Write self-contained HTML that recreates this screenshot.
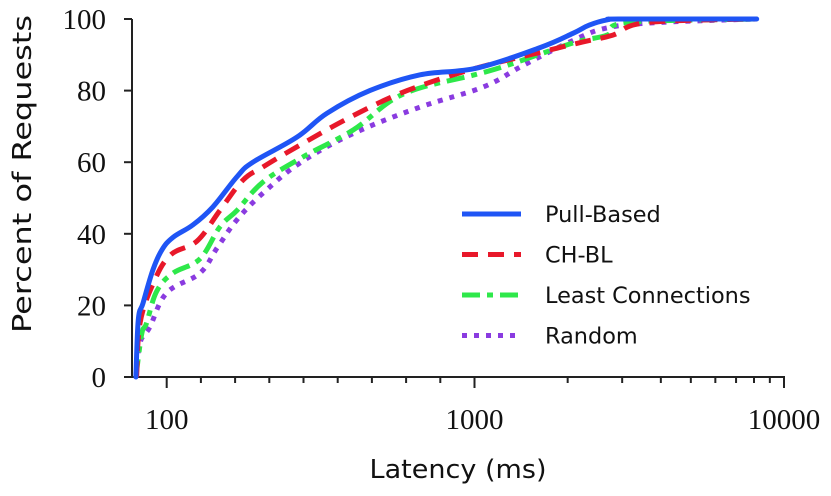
<!DOCTYPE html>
<html><head><meta charset="utf-8"><style>
body{margin:0;background:#fff;}
svg{display:block;}
.tk{font-family:"Liberation Serif",serif;font-size:29px;fill:#111;}
.tt{font-family:"DejaVu Sans","Liberation Sans",sans-serif;font-size:26px;fill:#111;}
.lg{font-family:"DejaVu Sans","Liberation Sans",sans-serif;font-size:22.4px;fill:#111;}
</style></head><body>
<svg id="chart" width="831" height="496" viewBox="0 0 831 496" xmlns="http://www.w3.org/2000/svg">
<g id="axes"></g>
<g id="series"></g>
<text class="tt" x="458" y="478" text-anchor="middle" textLength="177" lengthAdjust="spacingAndGlyphs">Latency (ms)</text>
<text class="tt" transform="translate(31,174) rotate(-90)" text-anchor="middle" textLength="318" lengthAdjust="spacingAndGlyphs">Percent of Requests</text>
<g id="legend"></g>
</svg>
<script>
const seriesNames = ["Pull-Based","CH-BL","Least Connections","Random"];
const pullX = [10,17,31,60,86,118,177,235,306,352,481,569,694,841,1019,1628,2081,2350,2700,3000,8160];
const pullY = [0,16,20.7,30,35.5,39,42.5,47.5,56,60,67,73.7,80,84.4,86.3,92,96,98.3,99.8,100,100];
const chblX = [12,22,60,110,189,256,323,382,490,645,803,987,1510,2240,2800,3600,8160];
const chblY = [0,15,26,34,38,46.6,55,58.7,64.8,73,80,85.8,90,93.6,95.5,99,100];
const lcX = [10,27,41,71,118,197,256,306,382,499,645,791,1000,1273,2080,2680,3110,8160];
const lcY = [0,12,15,24,29,33,42,46.6,54.5,61.5,69,79,84.4,87,93.3,95.5,99,100];
const rndX = [10,22,51,100,197,247,306,382,490,645,841,1067,1434,2080,2680,3880,8160];
const rndY = [0,9.5,14,23.5,29,36,44,51.4,59.8,68,75.4,81,87,94,97.5,99,100];
const yTicks = [0,20,40,60,80,100];
const xTickLabels = ["100","1000","10000"];
const xTickValues = [100,1000,10000];

const NS="http://www.w3.org/2000/svg";
function X(v){ if(v<=1000) return 132.5+v*0.342; return 474.5+309.5*Math.log10(v/1000); }
function Y(v){ return 377-v*3.58; }
function mk(tag,attrs,parent){const e=document.createElementNS(NS,tag);for(const k in attrs)e.setAttribute(k,attrs[k]);parent.appendChild(e);return e;}
function smooth(pts){
  let d='M'+pts[0][0].toFixed(1)+' '+pts[0][1].toFixed(1);
  for(let i=0;i<pts.length-1;i++){
    const p0=pts[Math.max(0,i-1)],p1=pts[i],p2=pts[i+1],p3=pts[Math.min(pts.length-1,i+2)];
    const t=0.18;
    const c1=[p1[0]+(p2[0]-p0[0])*t,p1[1]+(p2[1]-p0[1])*t];
    const c2=[p2[0]-(p3[0]-p1[0])*t,p2[1]-(p3[1]-p1[1])*t];
    if(c1[1]<Y(100))c1[1]=Y(100); if(c2[1]<Y(100))c2[1]=Y(100);
    d+=' C'+c1.map(v=>v.toFixed(1)).join(' ')+' '+c2.map(v=>v.toFixed(1)).join(' ')+' '+p2[0].toFixed(1)+' '+p2[1].toFixed(1);
  }
  return d;
}
const axes=document.getElementById('axes');
let a=mk('line',{x1:132,y1:19,x2:132,y2:378,stroke:'#222','stroke-width':2},axes);


a=mk('line',{x1:124,y1:377,x2:785,y2:377,stroke:'#222','stroke-width':2},axes);


yTicks.forEach(t=>{
  const l=mk('line',{x1:124,y1:Y(t),x2:132,y2:Y(t),stroke:'#222','stroke-width':2},axes);
  
  
  const tx=mk('text',{x:106,y:Y(t)+10,'text-anchor':'end',class:'tk'},axes);
  tx.textContent=t;
  
  
});
const minor=[];
for(let v=100;v<=1000;v+=100)minor.push(v);
for(let v=2000;v<=10000;v+=1000)minor.push(v);
minor.forEach(v=>{
  const major=xTickValues.includes(v);
  const l=mk('line',{x1:X(v),y1:377,x2:X(v),y2:major?388:383,stroke:'#222','stroke-width':2},axes);
  
  
});
xTickValues.forEach((v,i)=>{
  const tx=mk('text',{x:X(v),y:429,'text-anchor':'middle',class:'tk'},axes);
  tx.textContent=xTickLabels[i];
  
  
});
const styles=[
  {c:'#1f55f5',d:'',w:5,cap:'round'},
  {c:'#e8182a',d:'16 10',w:5,cap:'butt'},
  {c:'#2ee84a',d:'18 7 6 7',w:5,cap:'butt'},
  {c:'#8a3be0',d:'5 7',w:5,cap:'butt'}];
const data=[[pullX,pullY],[chblX,chblY],[lcX,lcY],[rndX,rndY]];
const sg=document.getElementById('series');
[3,2,1,0].forEach(i=>{
  const [xs,ys]=data[i];
  const pts=xs.map((x,j)=>[X(x),Y(ys[j])]);
  const p=mk('path',{d:smooth(pts),fill:'none',stroke:styles[i].c,'stroke-width':styles[i].w,'stroke-dasharray':styles[i].d,'stroke-linejoin':'round','stroke-linecap':styles[i].cap},sg);
  
  
});
const lg=document.getElementById('legend');
seriesNames.forEach((n,i)=>{
  const y=214+i*40.5;
  const l=mk('line',{x1:462,y1:y,x2:521,y2:y,stroke:styles[i].c,'stroke-width':5,'stroke-dasharray':styles[i].d},lg);
  
  
  const t=mk('text',{x:545,y:y+8,class:'lg'},lg);
  t.textContent=n;
  
  
});
</script>
</body></html>
